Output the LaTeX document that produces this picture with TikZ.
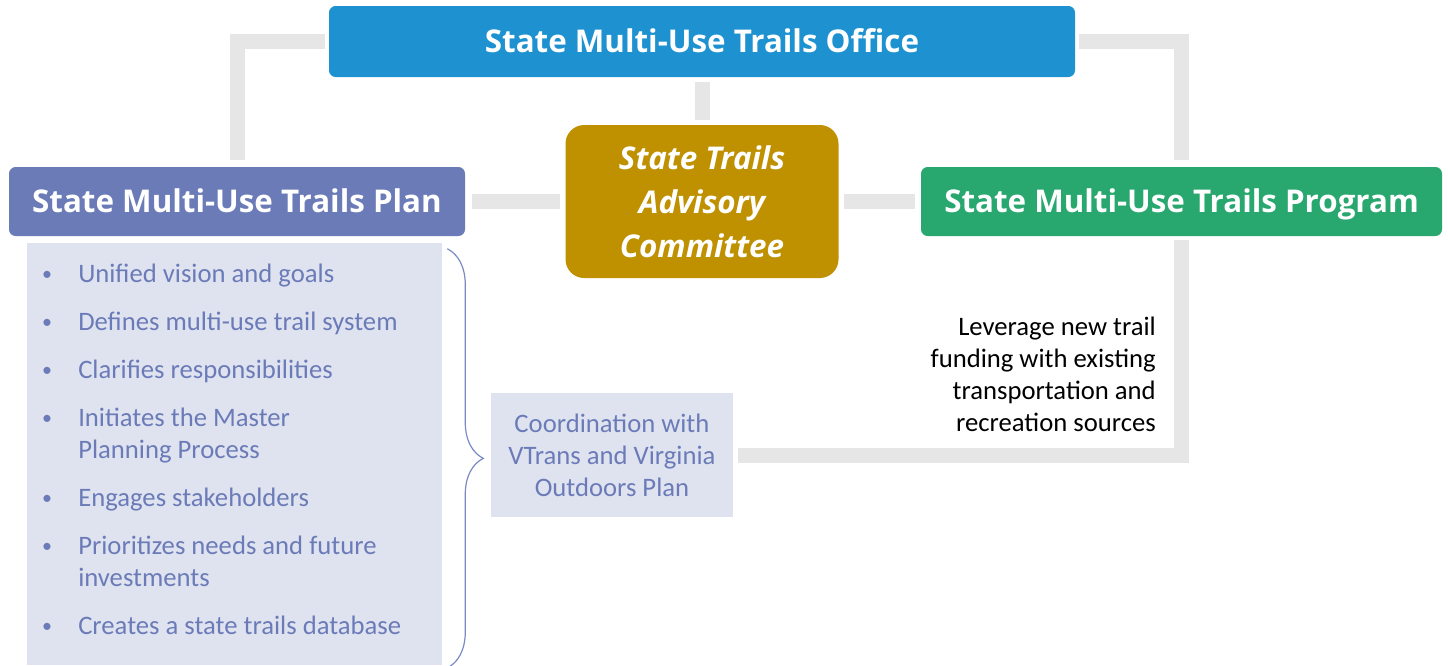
\documentclass[tikz,border=0pt]{standalone}
\usepackage{fontspec}
\setmainfont{Carlito}
\newfontfamily\headfont{Open Sans}
\usetikzlibrary{positioning,decorations.pathreplacing}

\definecolor{officeblue}{RGB}{30,146,208}
\definecolor{planblue}{RGB}{107,123,184}
\definecolor{committeegold}{RGB}{191,144,0}
\definecolor{programgreen}{RGB}{40,167,111}
\definecolor{listfill}{RGB}{223,227,240}
\definecolor{linkgray}{RGB}{230,230,230}
\definecolor{bracecol}{RGB}{122,138,196}

\begin{document}
\begin{tikzpicture}[
    x=0.75pt, y=-0.75pt,
    headbox/.style={
        rounded corners=5pt, text=white,
        font=\headfont\bfseries\fontsize{23.5}{33}\selectfont,
        align=center, inner sep=0pt
    },
    oneline/.style={headbox, text height=17pt, text depth=0pt},
    lightbox/.style={fill=listfill, inner sep=0pt},
    link/.style={draw=linkgray, line width=11.25pt},
    bodytext/.style={inner sep=0pt, font=\fontsize{20}{24}\selectfont},
    itemline/.style={bodytext, anchor=base west, text=planblue},
    brace/.style={draw=bracecol, line width=0.9pt,
        decorate, decoration={brace, amplitude=27pt}}
]
\useasboundingbox (0,0) rectangle (1448,665);

% boxes
\node[oneline, fill=officeblue, minimum width=559.5pt, minimum height=53.25pt]
    (office) at (702,41.5) {State Multi-Use Trails Office};
\node[oneline, fill=planblue, minimum width=342pt, minimum height=51.75pt]
    (plan) at (237,201.5) {State Multi-Use Trails Plan};
\node[headbox, fill=committeegold, rounded corners=14pt,
    minimum width=204.75pt, minimum height=114.75pt,
    font=\headfont\bfseries\itshape\fontsize{23.5}{33}\selectfont]
    (committee) at (702,201.5) {State Trails\\Advisory\\Committee};
\node[oneline, fill=programgreen, minimum width=390.75pt, minimum height=51.75pt]
    (program) at (1181.5,201.5) {State Multi-Use Trails Program};

\node[lightbox, minimum width=311.25pt, minimum height=316.5pt]
    (list) at (234.5,454) {};
\node[lightbox, bodytext, text=planblue, align=center,
    minimum width=181.5pt, minimum height=93pt]
    (coord) at (612,455) {Coordination with\\VTrans and Virginia\\Outdoors Plan};

% grey links
\draw[link, shorten <=3pt, shorten >=5pt] (office.west) -| (plan.north);
\draw[link, shorten <=3pt, shorten >=5pt] (office.east) -| (program.north);
\draw[link, shorten <=3.75pt, shorten >=3.75pt] (office.south) -- (committee.north);
\draw[link, shorten <=5pt, shorten >=3.75pt] (plan.east) -- (committee.west);
\draw[link, shorten <=3.75pt, shorten >=4.5pt] (committee.east) -- (program.west);
\draw[link, shorten <=3pt, shorten >=3.75pt] (program.south) |- (coord.east);

\node[bodytext, anchor=east, align=right] (lever) at (1156,374)
    {Leverage new trail\\funding with existing\\transportation and\\recreation sources};

% list of the plan
\foreach \yy/\txt/\dot in {282/Unified vision and goals/1,
        330/Defines multi-use trail system/1,
        378/Clarifies responsibilities/1,
        426/Initiates the Master/1,
        458/Planning Process/0,
        506/Engages stakeholders/1,
        554/Prioritizes needs and future/1,
        586/investments/0,
        634/Creates a state trails database/1}{
    \node[itemline] (line\yy) at (78,\yy) {\txt};
    \ifnum\dot=1
        \node[itemline, anchor=base, scale=0.75] (dot\yy) at (47,\yy-2) {\textbullet};
    \fi
}

\draw[brace] ([xshift=3.75pt, yshift=-4.5pt]list.north east)
    -- ([xshift=3.75pt, yshift=-2pt]list.south east);
\end{tikzpicture}
\end{document}
